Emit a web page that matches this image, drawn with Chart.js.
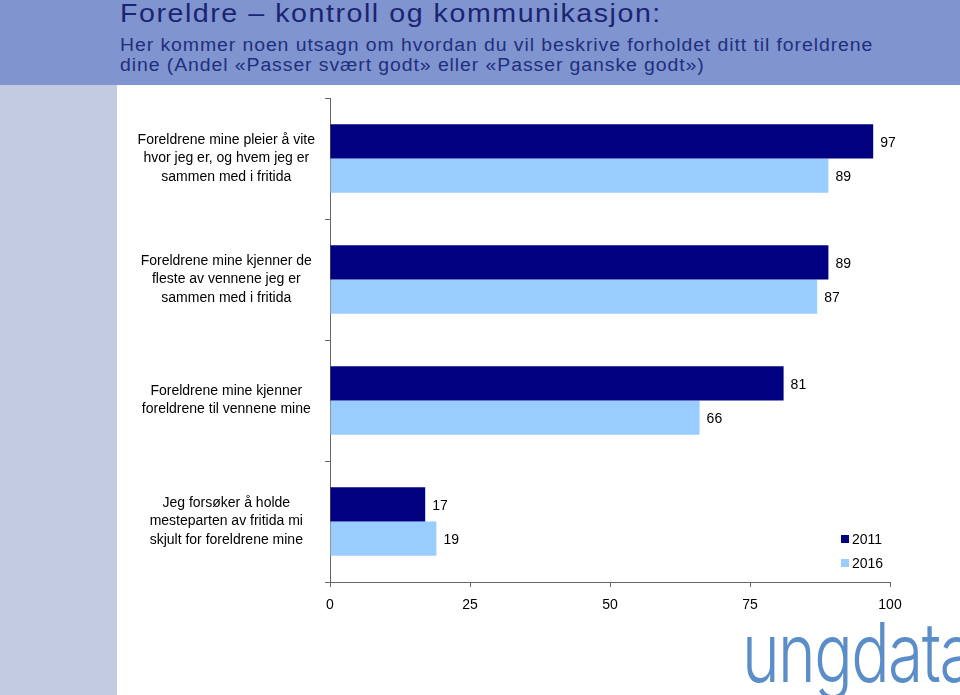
<!DOCTYPE html>
<html>
<head>
<meta charset="utf-8">
<script src="https://cdn.jsdelivr.net/npm/chart.js@4/dist/chart.umd.min.js"></script>
<style>
  body { margin: 0; width: 960px; height: 695px; overflow: hidden; background: #fff; font-family: "Liberation Sans", Arial, sans-serif; position: relative; }
  #header { position: absolute; left: 0; top: 0; width: 960px; height: 85px; background: #8094d0; }
  #strip { position: absolute; left: 0; top: 85px; width: 117px; height: 610px; background: #c2cbdf; }
  #title { position: absolute; left: 120px; top: -2px; font-size: 26px; letter-spacing: 1.4px; color: #1b2470; white-space: nowrap; transform-origin: left top; transform: scaleX(1.1); }
  #sub { position: absolute; left: 120px; top: 35px; font-size: 18px; line-height: 20px; letter-spacing: 0.85px; color: #1f2f7d; white-space: nowrap; transform-origin: left top; transform: scaleX(1.08); }
  #logo { position: absolute; left: 742px; top: 603px; font-family: Inter, Lato, sans-serif; font-weight: 300; font-size: 82px; color: #5b8ec8; white-space: nowrap; letter-spacing: -2px; transform-origin: left top; transform: scaleX(0.78); }
  #wrap { position: absolute; left: 0; top: 0; width: 960px; height: 695px; }
</style>
</head>
<body>
<div id="header"></div>
<div id="strip"></div>
<div id="title">Foreldre – kontroll og kommunikasjon:</div>
<div id="sub">Her kommer noen utsagn om hvordan du vil beskrive forholdet ditt til foreldrene<br>dine (Andel «Passer svært godt» eller «Passer ganske godt»)</div>
<div id="logo">ungdata</div>
<div id="wrap"><canvas id="myChart"></canvas></div>
<script>
// categories and values
var categories = [
  ['Foreldrene mine pleier å vite', 'hvor jeg er, og hvem jeg er', 'sammen med i fritida'],
  ['Foreldrene mine kjenner de', 'fleste av vennene jeg er', 'sammen med i fritida'],
  ['Foreldrene mine kjenner', 'foreldrene til vennene mine'],
  ['Jeg forsøker å holde', 'mesteparten av fritida mi', 'skjult for foreldrene mine']
]
var values_2011 = [97, 89, 81, 17]
var values_2016 = [89, 87, 66, 19]
var series_names = ['2011', '2016']
var x_ticks = [0, 25, 50, 75, 100]

// value labels next to each bar
var barLabels = {
  id: 'barLabels',
  afterDatasetsDraw(chart) {
    var ctx = chart.ctx
    ctx.save()
    ctx.font = '14px "Liberation Sans", Arial, sans-serif'
    ctx.fillStyle = '#000'
    ctx.textAlign = 'left'
    ctx.textBaseline = 'middle'
    chart.data.datasets.forEach(function (ds, i) {
      chart.getDatasetMeta(i).data.forEach(function (el, j) {
        ctx.fillText(ds.data[j], el.x + 7, el.y + 2)
      })
    })
    ctx.restore()
  }
}

// small legend at the lower right
var sideLegend = {
  id: 'sideLegend',
  afterDraw(chart) {
    var ctx = chart.ctx
    ctx.save()
    ctx.font = '14px "Liberation Sans", Arial, sans-serif'
    ctx.textBaseline = 'middle'
    chart.data.datasets.forEach(function (ds, i) {
      var y = 539 + i * 24
      ctx.fillStyle = ds.backgroundColor
      ctx.fillRect(841, y - 4, 8, 8)
      ctx.fillStyle = '#000'
      ctx.fillText(ds.label, 852, y + 1)
    })
    ctx.restore()
  }
}

const ctx = document.getElementById('myChart');

new Chart(ctx, {
  type: 'bar',
  data: {
    labels: categories,
    datasets: [{
      label: series_names[0],
      data: values_2011,
      backgroundColor: '#000080',
      barPercentage: 1,
      categoryPercentage: 0.565
    }, {
      label: series_names[1],
      data: values_2016,
      backgroundColor: '#99ccff',
      barPercentage: 1,
      categoryPercentage: 0.565
    }]
  },
  options: {
    indexAxis: 'y',
    responsive: true,
    maintainAspectRatio: false,
    animation: false,
    layout: { padding: { left: 117, top: 98, right: 70, bottom: 83 } },
    plugins: { legend: { display: false }, tooltip: { enabled: false } },
    scales: {
      x: {
        min: 0,
        max: 100,
        afterBuildTicks: function (axis) { axis.ticks = x_ticks.map(function (v) { return { value: v } }) },
        afterFit: function (axis) { axis.height = 30 },
        grid: { display: true, drawOnChartArea: false, tickLength: 5, color: '#666' },
        border: { color: '#666' },
        ticks: { color: '#000', font: { size: 14, family: '"Liberation Sans", Arial, sans-serif' }, padding: 10, maxRotation: 0 }
      },
      y: {
        afterFit: function (axis) { axis.width = 213 },
        grid: { display: true, drawOnChartArea: false, offset: true, tickLength: 5, color: '#666' },
        border: { color: '#666' },
        ticks: { color: '#000', crossAlign: 'center', padding: 10, font: { size: 14, lineHeight: 1.3, family: '"Liberation Sans", Arial, sans-serif' } }
      }
    }
  },
  plugins: [barLabels, sideLegend]
});
</script>
</body>
</html>
